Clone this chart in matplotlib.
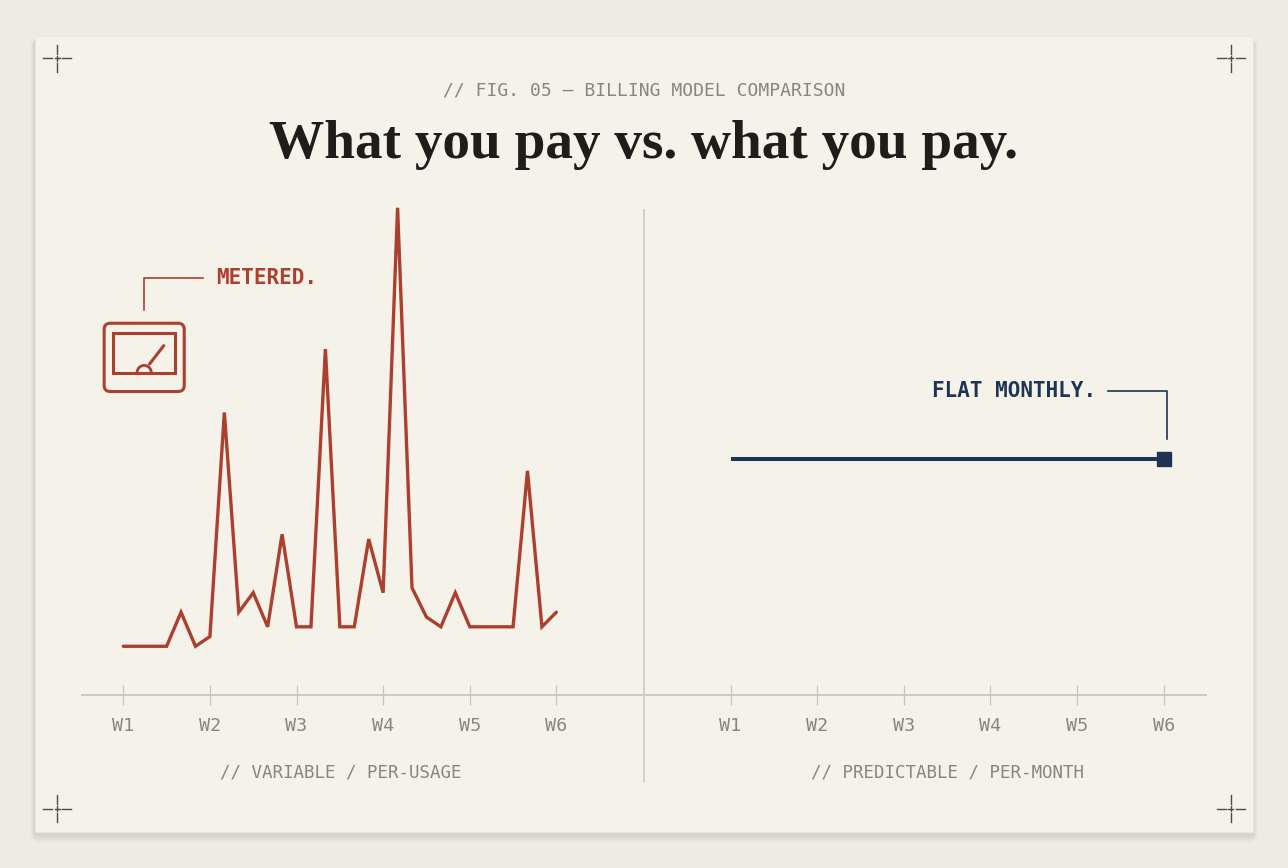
import matplotlib
matplotlib.use("Agg")
import matplotlib.pyplot as plt
from matplotlib.patches import FancyBboxPatch, Rectangle, Arc
from matplotlib.lines import Line2D

# ---------------- data ----------------
days = list(range(31))
metered_cost = [10, 10, 10, 10, 17, 10, 12, 58, 17, 21, 14, 33, 14, 14, 71, 14,
                14, 32, 21, 100, 22, 16, 14, 21, 14, 14, 14, 14, 46, 14, 17]
flat_days = [0, 30]
flat_cost = [48.5, 48.5]
week_ticks = [0, 6, 12, 18, 24, 30]
week_labels = ["W1", "W2", "W3", "W4", "W5", "W6"]

# ---------------- style ----------------
OUTER = "#eeebe2"
CARD = "#f5f2ea"
RED = "#ad3f2e"
NAVY = "#1f3354"
GRAY = "#8b867b"
AXIS = "#cbc6bb"
MARK = "#4d4b47"
MONO = ["DejaVu Sans Mono"]
SERIF = ["Liberation Serif", "DejaVu Serif"]

W, H = 1264.0, 848.0          # reference pixel space
fig = plt.figure(figsize=(12.88, 8.68), dpi=100)
fig.patch.set_facecolor(OUTER)

def fx(x):
    return x / W

def fy(y):
    return 1 - y / H

# background axes (card + shadow)
bg = fig.add_axes([0, 0, 1, 1], zorder=0)
bg.set_xlim(0, W); bg.set_ylim(H, 0); bg.axis("off")
for i in range(8):
    g = 8 - i
    bg.add_patch(FancyBboxPatch((34 - g * 0.5, 35 + 3), 1196 + g, 778 + g * 0.9,
                                boxstyle="round,pad=0,rounding_size=%d" % (g + 1),
                                facecolor="#7a705a", alpha=0.018, edgecolor="none"))
bg.add_patch(Rectangle((34, 35), 1196, 778, facecolor=CARD, edgecolor="#ebe7de", lw=0.6))

# ---------------- chart axes ----------------
px_per_day = 85 / 6.0
y0, px_per_unit = 679.0, 4.76

def make_axes(x_left, x_right, day0_px):
    ax = fig.add_axes([fx(x_left), fy(y0), fx(x_right) - fx(x_left), (y0 - 190) / H], zorder=1)
    ax.set_facecolor("none")
    ax.set_xlim(-(day0_px - x_left) / px_per_day, (x_right - day0_px) / px_per_day)
    ax.set_ylim(0, (y0 - 190) / px_per_unit)
    for s in ["top", "right", "left"]:
        ax.spines[s].set_visible(False)
    ax.spines["bottom"].set_color(AXIS)
    ax.spines["bottom"].set_linewidth(1.3)
    ax.set_yticks([])
    ax.set_xticks(week_ticks)
    ax.set_xticklabels(week_labels, fontfamily=MONO, fontsize=13.2, color=GRAY)
    ax.tick_params(axis="x", direction="inout", length=14, width=0.9, color=AXIS, pad=9)
    return ax

axL = make_axes(80, 632, 121)
axR = make_axes(632, 1184, 717)

axL.plot(days, metered_cost, color=RED, lw=2.4, solid_joinstyle="miter",
         solid_capstyle="round", clip_on=False)
axR.plot(flat_days, flat_cost, color=NAVY, lw=2.9, solid_capstyle="butt", clip_on=False)
axR.plot([flat_days[-1]], [flat_cost[-1]], marker="s", ms=10.5, color=NAVY, clip_on=False)

# ---------------- overlay (decorations, text) ----------------
ov = fig.add_axes([0, 0, 1, 1], zorder=2)
ov.set_xlim(0, W); ov.set_ylim(H, 0); ov.axis("off"); ov.patch.set_alpha(0)

# divider
ov.add_line(Line2D([632, 632], [205, 763], color="#d2cdc2", lw=1.3))

# crop marks
for cx, cy in [(56, 57), (1208, 57), (56, 790), (1208, 790)]:
    for sgn in (-1, 1):
        ov.add_line(Line2D([cx + sgn * 4.5, cx + sgn * 13.5], [cy, cy], color=MARK, lw=1.0))
        ov.add_line(Line2D([cx, cx], [cy + sgn * 4.5, cy + sgn * 13.5], color=MARK, lw=1.0))
    ov.add_line(Line2D([cx - 2.5, cx + 2.5], [cy, cy], color=MARK, lw=1.0))
    ov.add_line(Line2D([cx, cx], [cy - 2.5, cy + 2.5], color=MARK, lw=1.0))

# header
ov.text(632, 88, "// FIG. 05 — BILLING MODEL COMPARISON", ha="center", va="center",
        fontfamily=MONO, fontsize=13.0, color=GRAY)
ov.text(632, 154, "What you pay vs. what you pay.", ha="center", va="baseline",
        fontfamily=SERIF, fontweight="bold", fontsize=39.8, color="#1e1d1a")

# gauge icon
ov.add_patch(FancyBboxPatch((102.2, 315.8), 78.6, 66.7, boxstyle="round,pad=0,rounding_size=6",
                            facecolor="none", edgecolor=RED, lw=2.2))
ov.add_patch(Rectangle((111.3, 325.3), 60.7, 38.7, facecolor="none", edgecolor=RED, lw=2.2))
ov.add_patch(Arc((141.5, 364), 14, 14, theta1=180, theta2=360, edgecolor=RED, lw=2.0))
ov.add_line(Line2D([146.7, 160.7], [355.7, 337.7], color=RED, lw=2.2, solid_capstyle="round"))
ov.add_line(Line2D([141.3, 141.3, 199.3], [302.7, 271.7, 271.7], color=RED, lw=1.2))
ov.text(212, 272, "METERED.", ha="left", va="center", fontfamily=MONO,
        fontweight="bold", fontsize=15, color=RED)

# flat callout
ov.add_line(Line2D([1087, 1145.3, 1145.3], [381.7, 381.7, 429.3], color=NAVY, lw=1.2))
ov.text(1076, 382, "FLAT MONTHLY.", ha="right", va="center", fontfamily=MONO,
        fontweight="bold", fontsize=15, color=NAVY)

# panel captions
ov.text(334, 755, "// VARIABLE / PER-USAGE", ha="center", va="center",
        fontfamily=MONO, fontsize=12.6, color=GRAY)
ov.text(930, 755, "// PREDICTABLE / PER-MONTH", ha="center", va="center",
        fontfamily=MONO, fontsize=12.6, color=GRAY)

fig.savefig("out.png", dpi=100, facecolor=OUTER)
